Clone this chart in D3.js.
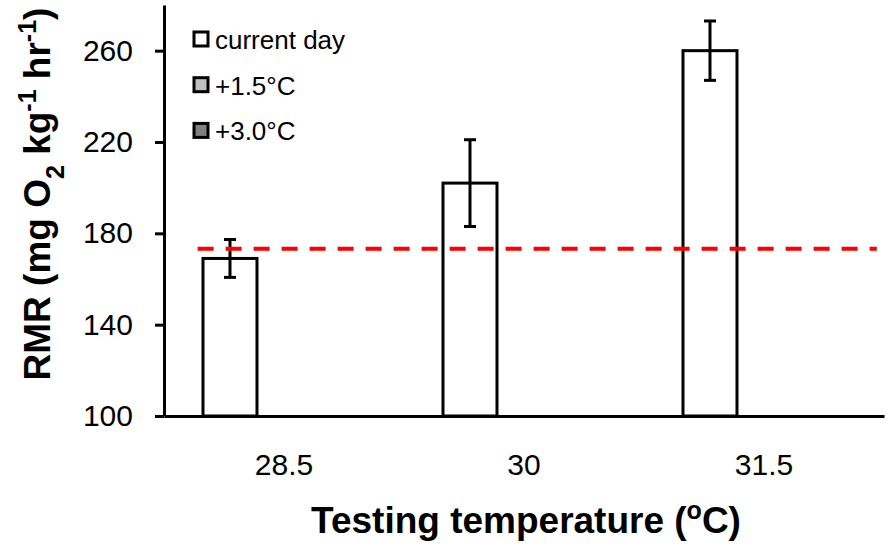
<!DOCTYPE html>
<html>
<head>
<meta charset="utf-8">
<script src="https://cdn.jsdelivr.net/npm/d3@7"></script>
<style>
  body { margin: 0; background: #fff; }
  text { font-family: "Liberation Sans", Arial, sans-serif; }
</style>
</head>
<body>
<script>
// data
var temps = ["28.5", "30", "31.5"];
var seriesNames = ["current day", "+1.5\u00B0C", "+3.0\u00B0C"];
var seriesColors = ["#ffffff", "#c0c0c0", "#808080"];
var currentDay = [169, 202, 260];
var currentDayErr = [8.3, 19, 13];
var plus15 = [null, null, null];
var plus30 = [null, null, null];
var yTicks = [100, 140, 180, 220, 260];
var refValue = 173.2;          // red dashed line
var refSpan = [0.14, 2.97];    // in category units

var width = 887, height = 546;
var plotLeft = 164, plotRight = 884, plotTop = 5, plotBottom = 416;

var svg = d3.select("body").append("svg")
    .attr("width", width).attr("height", height);

var x = d3.scaleBand().domain(temps).range([plotLeft, plotRight]).padding(0);
var xs = d3.scaleBand().domain(seriesNames).range([0, x.bandwidth()])
    .paddingInner(0).paddingOuter(0.722);
var xLin = d3.scaleLinear().domain([0, temps.length]).range([plotLeft, plotRight]);
var y = d3.scaleLinear().domain([100, 280]).range([plotBottom, plotTop]);

// bars
var allSeries = [currentDay, plus15, plus30];
allSeries.forEach(function(vals, s) {
    var bars = [];
    for (var i = 0; i < temps.length; i++) {
        if (vals[i] != null) bars.push({ t: temps[i], v: vals[i], i: i });
    }
    svg.append("g").selectAll("rect").data(bars).enter()
        .append("rect")
        .attr("x", function(d) { return x(d.t) + xs(seriesNames[s]); })
        .attr("y", function(d) { return y(d.v); })
        .attr("width", xs.bandwidth())
        .attr("height", function(d) { return y(100) - y(d.v); })
        .attr("fill", seriesColors[s])
        .attr("stroke", "#000")
        .attr("stroke-width", 3);
});

// error bars for current day
var eb = svg.append("g").attr("stroke", "#000").attr("stroke-width", 3);
currentDay.forEach(function(v, i) {
    var cx = x(temps[i]) + xs(seriesNames[0]) + xs.bandwidth() / 2;
    var e = currentDayErr[i];
    eb.append("line").attr("x1", cx).attr("x2", cx)
        .attr("y1", y(v + e)).attr("y2", y(v - e));
    [v + e, v - e].forEach(function(c) {
        eb.append("line").attr("x1", cx - 6).attr("x2", cx + 6)
            .attr("y1", y(c)).attr("y2", y(c));
    });
});

// reference line
svg.append("line")
    .attr("x1", xLin(refSpan[0])).attr("x2", xLin(refSpan[1]))
    .attr("y1", y(refValue)).attr("y2", y(refValue))
    .attr("stroke", "#ff0000").attr("stroke-width", 4)
    .attr("stroke-dasharray", "16,12");

// axes
var yAxis = d3.axisLeft(y).tickValues(yTicks).tickSize(9).tickSizeOuter(0).tickPadding(22);
var gy = svg.append("g").attr("transform", "translate(" + plotLeft + ",0)").call(yAxis);
gy.selectAll("path, line").attr("stroke", "#000").attr("stroke-width", 3);
gy.selectAll("text").attr("font-size", 30).attr("fill", "#000")
    .style("font-family", "'Liberation Sans', Arial, sans-serif");

var xAxis = d3.axisBottom(x).tickSize(0).tickSizeOuter(0).tickPadding(38);
var gx = svg.append("g").attr("transform", "translate(0," + plotBottom + ")").call(xAxis);
gx.select(".domain").attr("stroke", "#000").attr("stroke-width", 3);
gx.selectAll("text").attr("font-size", 30).attr("fill", "#000")
    .style("font-family", "'Liberation Sans', Arial, sans-serif");

// axis titles
var xt = svg.append("text")
    .attr("x", (plotLeft + plotRight) / 2 + 2).attr("y", 533)
    .attr("text-anchor", "middle")
    .attr("font-size", 37).attr("font-weight", "bold");
xt.append("tspan").text("Testing temperature (");
xt.append("tspan").attr("baseline-shift", "super").attr("font-size", 25).text("o");
xt.append("tspan").text("C)");

var yt = svg.append("text")
    .attr("transform", "translate(50,194) rotate(-90)")
    .attr("text-anchor", "middle")
    .attr("font-size", 37).attr("font-weight", "bold");
yt.append("tspan").text("RMR (mg O");
yt.append("tspan").attr("baseline-shift", "sub").attr("font-size", 25).text("2");
yt.append("tspan").text(" kg");
yt.append("tspan").attr("baseline-shift", "super").attr("font-size", 25).text("-1");
yt.append("tspan").text(" hr");
yt.append("tspan").attr("baseline-shift", "super").attr("font-size", 25).text("-1");
yt.append("tspan").text(")");

// legend
var lg = svg.append("g").attr("transform", "translate(194,39)");
seriesNames.forEach(function(name, i) {
    var row = lg.append("g").attr("transform", "translate(0," + (i * 45.7) + ")");
    row.append("rect").attr("x", 0).attr("y", -7).attr("width", 14).attr("height", 14)
        .attr("fill", seriesColors[i]).attr("stroke", "#000").attr("stroke-width", 3);
    row.append("text").attr("x", 21).attr("y", 10)
        .attr("font-size", 26).attr("fill", "#000").text(name);
});
</script>
</body>
</html>
